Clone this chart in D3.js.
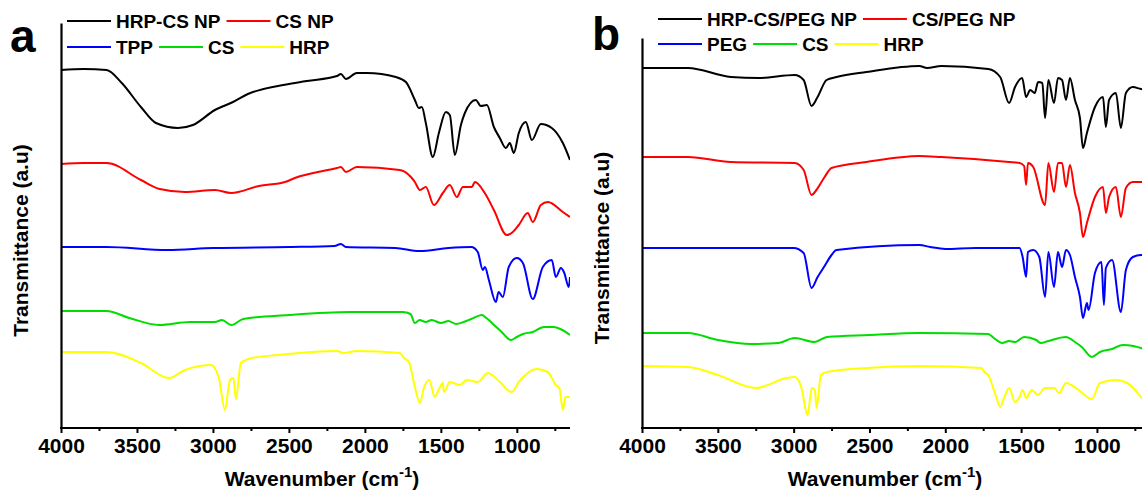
<!DOCTYPE html>
<html><head><meta charset="utf-8">
<script src="https://cdn.jsdelivr.net/npm/d3@7"></script>
<style>
html,body{margin:0;padding:0;background:#fff;}
svg{display:block;font-family:"Liberation Sans",Arial,sans-serif;font-weight:bold;}
</style></head>
<body><svg id="chart" width="1142" height="495"></svg>
<script>
// ---------- DATA (wavenumber cm-1, transmittance a.u. offset) ----------
const xTicksMajor = [4000, 3500, 3000, 2500, 2000, 1500, 1000];
const xTicksMinor = [3750, 3250, 2750, 2250, 1750, 1250, 750];

const panelALabels = ["HRP-CS NP", "CS NP", "TPP", "CS", "HRP"];
const panelBLabels = ["HRP-CS/PEG NP", "CS/PEG NP", "PEG", "CS", "HRP"];

const aHRPCSNP = [[4000,358],[3850,359],[3700,358],[3600,345],[3474,321],[3375,305],[3230,300],[3132,303],[2987,318],[2868,326],[2770,334],[2572,342],[2382,347],[2184,352],[2158,354],[2125,349],[2053,355],[1987,355],[1796,351],[1730,346],[1671,328],[1645,320],[1625,321],[1599,305],[1553,271],[1513,295],[1467,316],[1441,313],[1408,273],[1368,303],[1342,315],[1270,328],[1237,322],[1197,323],[1151,301],[1112,290],[1072,280],[1046,285],[1020,275],[987,295],[941,306],[901,288],[842,304],[770,300],[697,285],[650,268]];
const aCSNP = [[4000,264],[3850,265],[3700,265],[3474,248],[3350,239],[3184,236],[2987,238],[2880,235],[2697,242],[2526,246],[2461,250],[2184,260],[2158,261],[2125,256],[2053,261],[1770,258],[1697,251],[1671,246],[1638,238],[1599,241],[1546,223],[1487,235],[1441,243],[1395,231],[1355,241],[1296,241],[1276,246],[1211,235],[1151,218],[1066,193],[1026,196],[987,203],[928,215],[895,206],[842,223],[796,226],[697,216],[650,211]];
const aTPP = [[4000,181],[3700,181],[3300,178],[3000,180],[2500,181],[2200,182],[2158,184],[2125,181],[1800,180],[1640,177],[1450,180],[1300,181],[1257,176],[1224,158],[1210,161],[1184,148],[1138,126],[1120,136],[1092,131],[1053,161],[1000,170],[960,165],[895,129],[829,161],[770,168],[743,151],[710,160],[690,156],[658,141],[650,151]];
const aCS = [[4000,117],[3700,117],[3550,110],[3355,103],[3150,106],[2987,106],[2940,108],[2880,103],[2800,109],[2500,113],[2100,116],[1750,116],[1700,114],[1671,105],[1640,108],[1600,106],[1560,108],[1500,105],[1450,107],[1400,104],[1350,106],[1300,109],[1230,113],[1200,110],[1150,103],[1100,96],[1040,88],[1000,91],[960,94],[895,96],[822,101],[760,101],[700,98],[650,93]];
const aHRP = [[4000,76],[3700,76],[3474,65],[3290,50],[3184,58],[3086,62],[3013,63],[2961,50],[2921,18],[2888,48],[2865,50],[2849,29],[2816,65],[2743,70],[2572,73],[2184,77],[2140,75],[2053,77],[1770,75],[1743,70],[1710,66],[1671,41],[1638,25],[1610,41],[1576,48],[1540,31],[1515,38],[1487,45],[1480,36],[1441,46],[1375,43],[1330,48],[1257,46],[1191,55],[1125,48],[1033,36],[987,46],[868,59],[796,56],[743,43],[720,40],[697,18],[680,31],[650,31]];

const bHRPCSPEGNP = [[4000,360],[3697,360],[3414,351],[3230,350],[2993,353],[2934,348],[2882,322],[2842,331],[2783,348],[2717,351],[2520,356],[2171,362],[2120,360],[2026,362],[1717,359],[1638,351],[1579,325],[1540,341],[1493,350],[1467,331],[1440,338],[1410,335],[1388,346],[1360,345],[1342,310],[1320,348],[1283,325],[1257,350],[1230,348],[1204,328],[1178,350],[1145,328],[1112,310],[1092,280],[1066,295],[1013,321],[960,331],[941,301],[920,328],[875,335],[842,300],[809,335],[763,341],[710,339],[650,338]];
const bCSPEGNP = [[4000,271],[3697,271],[3414,266],[2993,265],[2934,258],[2882,233],[2850,238],[2800,250],[2750,260],[2520,266],[2171,272],[2026,271],[1579,266],[1510,265],[1480,262],[1467,243],[1455,265],[1420,261],[1342,223],[1320,265],[1283,236],[1257,265],[1230,265],[1204,241],[1178,263],[1145,235],[1112,215],[1092,191],[1066,205],[1013,231],[960,241],[941,215],[920,231],[875,241],[842,211],[809,240],[763,246],[710,246],[650,246]];
const bPEG = [[4000,180],[3697,180],[3000,180],[2934,175],[2882,140],[2842,151],[2800,161],[2750,173],[2717,178],[2171,183],[2100,181],[2000,179],[1800,180],[1510,180],[1490,171],[1467,151],[1455,176],[1420,178],[1380,171],[1342,131],[1320,176],[1283,141],[1257,176],[1230,161],[1204,178],[1178,173],[1145,151],[1112,131],[1092,110],[1066,125],[1055,118],[1013,155],[970,166],[954,123],[941,160],[900,168],[842,116],[809,158],[763,171],[710,173],[650,173]];
const bCS = [[4000,95],[3697,95],[3500,88],[3280,84],[3100,85],[2993,90],[2862,86],[2780,91],[2500,93],[2171,95],[1717,94],[1680,90],[1625,85],[1580,87],[1540,86],[1480,91],[1400,88],[1370,85],[1320,87],[1204,91],[1145,86],[1100,81],[1033,71],[980,76],[900,79],[829,83],[760,82],[710,80],[650,78]];
const bHRP = [[4000,62],[3697,61],[3500,53],[3250,40],[3046,50],[2993,51],[2950,41],[2908,13],[2880,40],[2860,38],[2849,20],[2820,53],[2780,56],[2520,60],[2171,62],[1760,60],[1743,56],[1717,53],[1664,31],[1638,21],[1610,31],[1579,40],[1540,26],[1510,31],[1490,38],[1467,30],[1430,38],[1390,33],[1342,40],[1280,40],[1250,35],[1204,45],[1120,38],[1033,29],[980,45],[875,48],[800,45],[760,40],[710,31],[650,20]];

const seriesColors = ["#000000", "#ff0000", "#0000ff", "#00dd00", "#ffff00"];

// ---------- LAYOUT ----------
const svg = d3.select("#chart");
const bottom = 428;
const panels = [
  {letter:"a", left:61, right:570, axisTop:23, labels:panelALabels,
   series:[aHRPCSNP, aCSNP, aTPP, aCS, aHRP], letterX:10, letterY:52,
   legendY:[21, 47], legendX:67, ytitleX:21, xtitleX:322},
  {letter:"b", left:642, right:1150, axisTop:38, labels:panelBLabels,
   series:[bHRPCSPEGNP, bCSPEGNP, bPEG, bCS, bHRP], letterX:592, letterY:50,
   legendY:[19, 44], legendX:658, ytitleX:602, xtitleX:885}
];

panels.forEach(p => {
  const g = svg.append("g");
  const x = d3.scaleLinear().domain([4000, 650]).range([p.left, p.right]);
  const y = d3.scaleLinear().domain([0, 400]).range([bottom, bottom - 400]);

  const clipId = "clip-" + p.letter;
  g.append("clipPath").attr("id", clipId).append("rect")
    .attr("x", p.left).attr("y", 0).attr("width", p.right - p.left).attr("height", bottom);

  const line = d3.line().curve(d3.curveMonotoneX).x(d => x(d[0])).y(d => y(d[1]));
  const curves = g.append("g").attr("clip-path", `url(#${clipId})`);
  p.series.slice().reverse().forEach((s, i) => {
    const idx = p.series.length - 1 - i;
    curves.append("path").datum(s)
      .attr("d", line).attr("fill", "none")
      .attr("stroke", seriesColors[idx]).attr("stroke-width", 2)
      .attr("stroke-linejoin", "round");
  });

  // x axis
  const xAxis = d3.axisBottom(x).tickValues(xTicksMajor).tickSize(5).tickSizeOuter(0).tickPadding(5)
    .tickFormat(d3.format("d"));
  const ax = g.append("g").attr("transform", `translate(0,${bottom})`).call(xAxis);
  ax.select(".domain").attr("stroke-width", 2.2).attr("d", `M${p.left - 1},0H${p.right}`);
  ax.selectAll(".tick line").attr("stroke-width", 2);
  ax.selectAll(".tick text").attr("font-size", 21).attr("font-weight", "bold")
    .attr("font-family", "'Liberation Sans', Arial, sans-serif").attr("fill", "#000");
  const axm = g.append("g").attr("transform", `translate(0,${bottom})`)
    .call(d3.axisBottom(x).tickValues(xTicksMinor).tickSize(3).tickFormat(""));
  axm.select(".domain").remove();
  axm.selectAll(".tick line").attr("stroke-width", 2);

  // y axis (no ticks)
  const yAx = d3.scaleLinear().domain([0, 1]).range([bottom, p.axisTop]);
  const ay = g.append("g").attr("transform", `translate(${p.left},0)`)
    .call(d3.axisLeft(yAx).tickValues([]).tickSizeOuter(0));
  ay.select(".domain").attr("stroke-width", 2.2);

  // x title
  const xt = g.append("text").attr("x", p.xtitleX).attr("y", 486)
    .attr("text-anchor", "middle").attr("font-size", 21);
  xt.append("tspan").text("Wavenumber (cm");
  xt.append("tspan").attr("font-size", 15).attr("dy", -9).text("-1");
  xt.append("tspan").attr("dy", 9).text(")");

  // y title
  g.append("text").attr("transform", `translate(${p.ytitleX},${(p.axisTop + bottom) / 2 + 15}) rotate(-90)`)
    .attr("text-anchor", "middle").attr("dy", "0.35em").attr("font-size", 21)
    .text("Transmittance (a.u)");

  // panel letter
  g.append("text").attr("x", p.letterX).attr("y", p.letterY).attr("font-size", 46).text(p.letter);

  // legend
  const rows = [[0, 1], [2, 3, 4]];
  rows.forEach((row, ri) => {
    let cur = p.legendX;
    const ly = p.legendY[ri];
    row.forEach(si => {
      g.append("line").attr("x1", cur).attr("x2", cur + 44).attr("y1", ly).attr("y2", ly)
        .attr("stroke", seriesColors[si]).attr("stroke-width", 2);
      const t = g.append("text").attr("x", cur + 49).attr("y", ly).attr("dy", "0.35em")
        .attr("font-size", 19).text(p.labels[si]);
      cur = cur + 49 + t.node().getComputedTextLength() + 6;
    });
  });
});
</script></body></html>
